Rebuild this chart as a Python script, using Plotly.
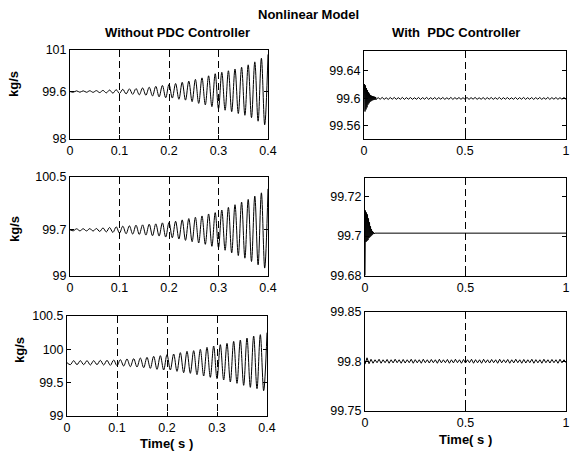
import numpy as np
import plotly.graph_objects as go

W, H = 570, 452

# ---------------- data ----------------
# Left column: time 0..0.4 s, extremes of the growing oscillation
flow1_without = [99.60, 99.578, 99.623, 99.577, 99.624, 99.575, 99.626, 99.573, 99.630, 99.565,
                 99.638, 99.555, 99.65, 99.545, 99.66, 99.535, 99.675, 99.52, 99.69, 99.505,
                 99.70, 99.49, 99.72, 99.475, 99.745, 99.45, 99.775, 99.42, 99.805, 99.39,
                 99.84, 99.38, 99.87, 99.34, 99.91, 99.31, 99.95, 99.26, 100.01, 99.20,
                 100.06, 99.15, 100.13, 99.09, 100.2, 99.02, 100.25, 98.97, 100.3, 98.92,
                 100.36, 98.86, 100.42, 98.8, 100.5, 98.72, 100.6, 98.6, 100.72, 98.48,
                 100.85]
flow2_without = [99.70, 99.685, 99.715, 99.684, 99.716, 99.683, 99.718, 99.681, 99.72, 99.675,
                 99.728, 99.668, 99.735, 99.66, 99.745, 99.65, 99.755, 99.64, 99.76, 99.635,
                 99.77, 99.63, 99.775, 99.62, 99.785, 99.61, 99.79, 99.605, 99.805, 99.59,
                 99.81, 99.58, 99.83, 99.56, 99.85, 99.54, 99.87, 99.52, 99.89, 99.50,
                 99.91, 99.48, 99.94, 99.45, 99.96, 99.43, 100.0, 99.39, 100.04, 99.35,
                 100.08, 99.31, 100.12, 99.27, 100.16, 99.22, 100.21, 99.17, 100.26, 99.12,
                 100.32]
flow3_without = [99.80, 99.77, 99.83, 99.77, 99.83, 99.77, 99.83, 99.765, 99.83, 99.77,
                 99.835, 99.765, 99.835, 99.76, 99.84, 99.755, 99.845, 99.75, 99.855, 99.74,
                 99.86, 99.735, 99.87, 99.725, 99.88, 99.715, 99.895, 99.70, 99.905, 99.69,
                 99.92, 99.69, 99.93, 99.67, 99.95, 99.65, 99.97, 99.64, 99.98, 99.62,
                 100.0, 99.60, 100.03, 99.58, 100.05, 99.56, 100.07, 99.54, 100.09, 99.51,
                 100.12, 99.49, 100.14, 99.46, 100.17, 99.43, 100.2, 99.41, 100.22, 99.38,
                 100.25]

# Right column: time 0..1 s
flow1_with_transient = [99.600, 99.621, 99.581, 99.619, 99.584, 99.615, 99.587, 99.612, 99.591, 99.609,
                        99.593, 99.607, 99.595, 99.605, 99.596, 99.604, 99.597, 99.6035, 99.5975, 99.603,
                        99.598, 99.6025, 99.598, 99.602, 99.5985]
flow1_with_ripple = [99.6012, 99.5988, 99.6015, 99.5987, 99.601, 99.5986, 99.6013, 99.5989, 99.6014, 99.5987,
                     99.6011, 99.5988, 99.6015, 99.5986, 99.6012, 99.5989, 99.6013, 99.5987, 99.601, 99.5988,
                     99.6014, 99.5986, 99.6012, 99.5989, 99.6015, 99.5987, 99.6011, 99.5988, 99.6013, 99.5986,
                     99.6012, 99.5989, 99.6014, 99.5987, 99.601, 99.5988, 99.6015, 99.5986, 99.6012, 99.5989,
                     99.6013, 99.5987, 99.6011, 99.5988, 99.6014, 99.5986, 99.6012, 99.5989, 99.6015, 99.5987,
                     99.601, 99.5988, 99.6013, 99.5986, 99.6012, 99.5989, 99.6014, 99.5987, 99.6011, 99.5988,
                     99.6015, 99.5986, 99.6012, 99.5989, 99.6013, 99.5987, 99.601, 99.5988, 99.6014, 99.5986,
                     99.6012, 99.5989, 99.6015, 99.5987, 99.6011, 99.5988, 99.6013, 99.5986, 99.6012, 99.5989,
                     99.6014, 99.5987, 99.601, 99.5988, 99.6015, 99.5986, 99.6012, 99.5989, 99.6013, 99.5987,
                     99.6011, 99.5988, 99.6014, 99.5987]
flow2_with_transient = [99.680, 99.713, 99.697, 99.712, 99.6975, 99.711, 99.698, 99.709, 99.699, 99.707,
                        99.6995, 99.705, 99.700, 99.7035, 99.7005, 99.7025, 99.701, 99.702, 99.7012, 99.7016,
                        99.7015]
flow2_with_steady = [99.7015, 99.7015]
flow3_with = [99.797, 99.8035, 99.7975, 99.802, 99.798, 99.8015, 99.7985, 99.802, 99.798, 99.8015,
              99.7985, 99.8018, 99.798, 99.8015, 99.7983, 99.802, 99.7985, 99.8015, 99.798, 99.8018,
              99.7982, 99.8015, 99.7985, 99.802, 99.798, 99.8016, 99.7984, 99.8015, 99.798, 99.802,
              99.7985, 99.8015, 99.7982, 99.8018, 99.7985, 99.8015, 99.798, 99.802, 99.7984, 99.8015,
              99.7985, 99.8018, 99.798, 99.8015, 99.7983, 99.802, 99.7985, 99.8015, 99.798, 99.8018,
              99.7982, 99.8015, 99.7985, 99.802, 99.798, 99.8016, 99.7984, 99.8015, 99.798, 99.802,
              99.7985, 99.8015, 99.7982, 99.8018, 99.7985, 99.8015, 99.798, 99.802, 99.7984, 99.8015,
              99.7985, 99.8018, 99.798, 99.8015, 99.7983, 99.802, 99.7985, 99.8015, 99.798, 99.8018,
              99.7982, 99.8015, 99.7985, 99.802, 99.798, 99.8016, 99.7984, 99.8015, 99.798, 99.802,
              99.7985, 99.8015, 99.7982, 99.8018, 99.7985, 99.8015, 99.798, 99.802, 99.7984, 99.8015,
              99.7985]

# sampling grids (uniform simulation time steps)
t_left = np.linspace(0, 0.4, len(flow1_without))
t_w1 = list(np.linspace(0, 0.06, len(flow1_with_transient))) + list(np.linspace(0.07, 1.0, len(flow1_with_ripple)))
flow1_with = flow1_with_transient + flow1_with_ripple
t_w2 = list(np.linspace(0, 0.05, len(flow2_with_transient))) + [0.06, 1.0]
flow2_with = flow2_with_transient + flow2_with_steady
t_w3 = np.linspace(0, 1.0, len(flow3_with))

left_xticks = [0, 0.1, 0.2, 0.3, 0.4]
left_xticklabels = ["0", "0.1", "0.2", "0.3", "0.4"]
right_xticks = [0, 0.5, 1]
right_xticklabels = ["0", "0.5", "1"]

yticks_tl = [98, 99.6, 101]
yticks_ml = [99, 99.7, 100.5]
yticks_bl = [99, 99.5, 100, 100.5]
yticks_tr = [99.56, 99.6, 99.64]
yticks_mr = [99.68, 99.7, 99.72]
yticks_br = [99.75, 99.8, 99.85]

# ---------------- layout geometry (pixels) ----------------
FONT = "Liberation Sans, Arial, sans-serif"
TICK_SIZE = 12.5
panels = [
    (t_left, flow1_without, [0, 0.4], [98, 101], yticks_tl, left_xticks, left_xticklabels, (70, 268, 50, 139), True),
    (t_w1, flow1_with, [0, 1], [99.541, 99.669], yticks_tr, right_xticks, right_xticklabels, (364, 566, 51, 139), False),
    (t_left, flow2_without, [0, 0.4], [99, 100.5], yticks_ml, left_xticks, left_xticklabels, (70, 268, 177, 276), True),
    (t_w2, flow2_with, [0, 1], [99.68, 99.7295], yticks_mr, right_xticks, right_xticklabels, (365, 566, 178, 275.5), False),
    (t_left, flow3_without, [0, 0.4], [99, 100.5], yticks_bl, left_xticks, left_xticklabels, (67, 267, 316, 416), True),
    (t_w3, flow3_with, [0, 1], [99.75, 99.85], yticks_br, right_xticks, right_xticklabels, (365, 566, 312, 410.5), False),
]

fig = go.Figure()
layout = dict(
    width=W, height=H,
    margin=dict(l=0, r=0, t=0, b=0, pad=0, autoexpand=False),
    paper_bgcolor="white", plot_bgcolor="white",
    showlegend=False,
    font=dict(family=FONT, size=13, color="black"),
)

for i, (x, y, xr, yr, yt, xt, xl, box, spline) in enumerate(panels, start=1):
    l, r, t, b = box
    xa = "xaxis" if i == 1 else f"xaxis{i}"
    ya = "yaxis" if i == 1 else f"yaxis{i}"
    xs = "x" if i == 1 else f"x{i}"
    ys = "y" if i == 1 else f"y{i}"
    fig.add_trace(go.Scatter(
        x=x, y=y, xaxis=xs, yaxis=ys, mode="lines",
        line=dict(color="black", width=1, shape="spline" if spline else "linear"),
        hoverinfo="skip",
    ))
    layout[xa] = dict(
        domain=[l / W, r / W], anchor=ys, range=xr, automargin=False,
        tickmode="array", tickvals=xt, ticktext=xl, ticklabeloverflow="allow",
        showline=True, linecolor="black", linewidth=1, mirror="ticks",
        ticks="inside", ticklen=4, tickcolor="black",
        showgrid=True, gridcolor="black", gridwidth=1, griddash="7px,4px",
        zeroline=False, tickfont=dict(size=TICK_SIZE, family=FONT, color="black"),
    )
    layout[ya] = dict(
        domain=[1 - b / H, 1 - t / H], anchor=xs, range=yr, automargin=False,
        tickmode="array", tickvals=yt, ticklabeloverflow="allow",
        showline=True, linecolor="black", linewidth=1, mirror="ticks",
        ticks="inside", ticklen=4, tickcolor="black",
        showgrid=False, zeroline=False,
        tickfont=dict(size=TICK_SIZE, family=FONT, color="black"),
    )

def ann(text, px, py, size=13, bold=True, angle=0):
    return dict(
        text=f"<b>{text}</b>" if bold else text,
        x=px / W, y=1 - py / H, xref="paper", yref="paper",
        xanchor="center", yanchor="middle", showarrow=False,
        textangle=angle, font=dict(family=FONT, size=size, color="black"),
    )

layout["annotations"] = [
    ann("Nonlinear Model", 308, 14),
    ann("Without PDC Controller", 177, 33),
    ann("With  PDC Controller", 456, 33),
    ann("kg/s", 13, 84, angle=-90),
    ann("kg/s", 15, 229, angle=-90),
    ann("kg/s", 19, 350, angle=-90),
    ann("Time( s )", 166, 443),
    ann("Time( s )", 465, 439),
]

fig.update_layout(**layout)
fig.write_html(
    "out.html",
    config={"displayModeBar": False, "staticPlot": True},
    post_script="document.body.style.margin='0';document.body.style.overflow='hidden';",
)
